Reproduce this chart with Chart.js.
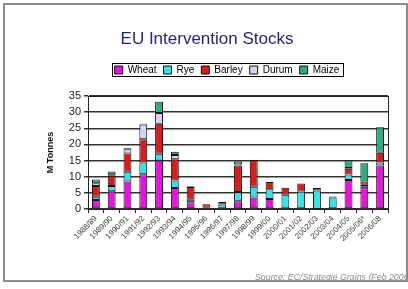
<!DOCTYPE html>
<html>
<head>
<meta charset="utf-8">
<script src="https://cdn.jsdelivr.net/npm/chart.js@4/dist/chart.umd.min.js"></script>
<style>
  html, body { margin: 0; padding: 0; background: #fff; overflow: hidden; }
  #wrap { position: relative; width: 408px; height: 289px; overflow: hidden; }
  #c { position: absolute; left: 0; top: 0; }
  #frame { position: absolute; left: 3px; top: 3px; width: 405px; height: 279px;
           border: 2px solid #8c8c8c; box-sizing: border-box; pointer-events: none; }
  #src { position: absolute; left: 255px; top: 272px; font: italic 8.8px "Liberation Sans", Arial, sans-serif;
         color: #8a8a8a; white-space: nowrap; }
</style>
</head>
<body>
<div id="wrap">
  <canvas id="c" width="408" height="289"></canvas>
  <div id="frame"></div>
  <div id="src">Source: EC/Strategie Grains (Feb 2006)</div>
</div>
<script>
const categories = ['1988/89','1989/90','1990/91','1991/92','1992/93','1993/94','1994/95','1995/96','1996/97','1997/98','1998/99','1999/00','2000/01','2001/02','2002/03','2003/04','2004/05','2005/06*','2006/08'];
const wheat  = [2.8, 5.5, 8.5, 10.8, 15.0, 6.5, 2.1, 0,   0.2, 2.4, 3.6, 3.1, 0.2, 0.2, 0.1, 0,   9.0, 6.9, 13.5];
const rye    = [1.0, 1.6, 3.0, 3.6,  2.1,  2.3, 0.8, 0.4, 1.2, 2.9, 3.3, 3.0, 4.2, 5.2, 5.6, 3.6, 1.7, 0.6, 0.9];
const barley = [3.3, 3.2, 5.7, 7.2,  9.3,  6.6, 3.9, 1.1, 0.8, 8.2, 8.3, 2.3, 2.2, 2.5, 0.8, 0.3, 1.8, 1.0, 3.0];
const durum  = [0.9, 0.5, 1.3, 4.6,  3.3,  1.3, 0.2, 0,   0,   0.3, 0,   0,   0,   0,   0,   0,   0.2, 0,   0];
const maize  = [1.1, 0.8, 0.3, 0.2,  3.5,  1.0, 0.1, 0,   0,   0.9, 0,   0,   0,   0,   0,   0,   2.4, 5.7, 7.9];
const yTicks = [0, 5, 10, 15, 20, 25, 30, 35];

const series = [
  { label: 'Wheat',  data: wheat,  color: '#e612e0' },
  { label: 'Rye',    data: rye,    color: '#33e2ea' },
  { label: 'Barley', data: barley, color: '#d81c1c' },
  { label: 'Durum',  data: durum,  color: '#d2d2f2' },
  { label: 'Maize',  data: maize,  color: '#2aae7e' }
];

const FONT = '"Liberation Sans", Arial, sans-serif';
const LEGEND_SHIFT_X = 20;
const LEGEND_SHIFT_Y = -11;
const TITLE_SHIFT_Y = -8;

const frameAndLegendBox = {
  id: 'frameAndLegendBox',
  afterLayout(chart) {
    const lg = chart.legend;
    if (lg) {
      lg.left += LEGEND_SHIFT_X; lg.right += LEGEND_SHIFT_X;
      lg.top += LEGEND_SHIFT_Y; lg.bottom += LEGEND_SHIFT_Y;
    }
    const t = chart.titleBlock;
    if (t) { t.top += TITLE_SHIFT_Y; t.bottom += TITLE_SHIFT_Y; }
  },
  afterDraw(chart) {
    const ctx = chart.ctx;
    const a = chart.chartArea;
    ctx.save();
    ctx.strokeStyle = '#222';
    ctx.lineWidth = 1;
    ctx.strokeRect(Math.round(a.left) + 0.5, Math.round(a.top) + 0.5, Math.round(a.right - a.left), Math.round(a.bottom - a.top));
    const lg = chart.legend;
    if (lg && lg.legendHitBoxes && lg.legendHitBoxes.length) {
      const hb = lg.legendHitBoxes;
      const x0 = hb[0].left - 3;
      const last = hb[hb.length - 1];
      const x1 = last.left + last.width + 3;
      const y0 = hb[0].top - 2;
      const y1 = hb[0].top + hb[0].height + 1;
      ctx.strokeStyle = '#000';
      ctx.strokeRect(Math.round(x0) + 0.5, Math.round(y0) + 0.5, Math.round(x1 - x0), Math.round(y1 - y0));
    }
    ctx.restore();
  }
};

new Chart(document.getElementById('c'), {
  type: 'bar',
  data: {
    labels: categories,
    datasets: series.map(s => ({
      label: s.label,
      data: s.data,
      backgroundColor: s.color,
      borderColor: '#111',
      borderWidth: ctx => (ctx.raw ? 1 : 0),
      borderSkipped: false,
      categoryPercentage: 0.5,
      barPercentage: 1.0
    }))
  },
  options: {
    responsive: false,
    animation: false,
    devicePixelRatio: 1,
    layout: { padding: { left: 26, right: 20, top: 0, bottom: 20 } },
    plugins: {
      title: {
        display: true,
        text: 'EU Intervention Stocks',
        color: '#24247e',
        font: { family: FONT, size: 17, weight: 'normal' },
        padding: { top: 19, bottom: 11 }
      },
      legend: {
        display: true,
        labels: {
          color: '#000',
          font: { family: FONT, size: 10 },
          boxWidth: 8,
          boxHeight: 8,
          padding: 7,
          generateLabels(chart) {
            return chart.data.datasets.map((d, i) => ({
              text: d.label,
              fillStyle: d.backgroundColor,
              strokeStyle: '#111',
              lineWidth: 1,
              hidden: false,
              datasetIndex: i,
              fontColor: '#000'
            }));
          }
        }
      },
      tooltip: { enabled: false }
    },
    scales: {
      x: {
        stacked: true,
        grid: { display: true, drawOnChartArea: false, drawTicks: true, tickLength: 4, color: '#222', offset: true },
        border: { display: true, color: '#222' },
        ticks: {
          autoSkip: false, maxRotation: 45, minRotation: 45,
          color: '#444', font: { family: FONT, size: 8 }, padding: 1
        },
        afterFit(scale) { scale.height = 60; }
      },
      y: {
        stacked: true,
        min: 0, max: 35,
        afterBuildTicks(scale) { scale.ticks = yTicks.map(v => ({ value: v })); },
        grid: { color: '#333', lineWidth: 1.5, drawTicks: true, tickLength: 4 },
        border: { display: true, color: '#222' },
        ticks: { autoSkip: false, color: '#222', font: { family: FONT, size: 11 }, padding: 3 },
        title: { display: true, text: 'M Tonnes', color: '#111', font: { family: FONT, size: 9, weight: 'bold' }, padding: { top: 19, bottom: 0 } },
        afterFit(scale) { scale.width = 62; scale.paddingTop = 96; }
      }
    }
  },
  plugins: [frameAndLegendBox]
});
</script>
</body>
</html>
